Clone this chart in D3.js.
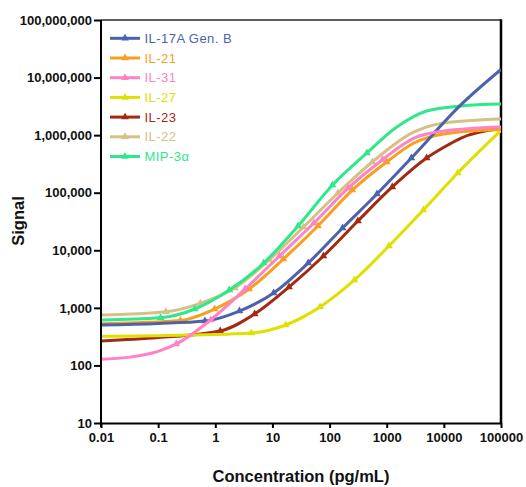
<!DOCTYPE html>
<html>
<head>
<meta charset="utf-8">
<script src="https://cdn.jsdelivr.net/npm/d3@7"></script>
<style>
  html, body { margin: 0; padding: 0; background: #fff; }
  svg { display: block; font-family: "Liberation Sans", Arial, sans-serif; }
</style>
</head>
<body>
<svg id="chart" width="526" height="487"></svg>
<script>
// Standard curves: signal vs. concentration (4-fold serial dilutions), log-log.
const seriesNames  = ["IL-17A Gen. B", "IL-21", "IL-31", "IL-27", "IL-23", "IL-22", "MIP-3α"];
const seriesColors = ["#4b63ad", "#f8a01c", "#ff82c2", "#e0e000", "#a32a12", "#d6c084", "#2fe88a"];

// Measured standards (triangles)
const il17aConc   = [0.659, 2.64, 10.5, 42.2, 169, 675, 2700];
const il17aSignal = [590, 881, 1810, 6000, 24400, 95000, 401000];
const il21Conc    = [0.244, 0.977, 3.91, 15.6, 62.5, 250, 1000];
const il21Signal  = [603, 955, 2120, 7060, 26400, 111000, 342000];
const il31Conc    = [0.208, 0.830, 3.32, 13.3, 53.1, 213, 850];
const il31Signal  = [236, 615, 2120, 7960, 29800, 121000, 378000];
const il27Conc    = [4.27, 17.1, 68.4, 273, 1094, 4375, 17500];
const il27Signal  = [366, 504, 1040, 3050, 11900, 50100, 220000];
const il23Conc    = [1.22, 4.88, 19.5, 78.1, 313, 1250, 5000];
const il23Signal  = [396, 782, 2300, 7960, 32300, 126000, 401000];
const il22Conc    = [0.137, 0.547, 2.19, 8.75, 35, 140, 560];
const il22Signal  = [857, 1200, 2210, 6780, 25400, 98900, 342000];
const mip3aConc   = [0.110, 0.439, 1.76, 7.03, 28.1, 112.5, 450];
const mip3aSignal = [674, 955, 2040, 6000, 26400, 136000, 490000];

// Fitted curve values beyond the standards range
const il17aFitConc   = [0.01, 0.1, 20000, 100000];
const il17aFitSignal = [504, 535, 3380000, 13800000];
const il21FitConc    = [0.01, 3000, 10000, 100000];
const il21FitSignal  = [531, 730000, 1050000, 1250000];
const il31FitConc    = [0.01, 0.03, 0.1, 3000, 10000, 100000];
const il31FitSignal  = [128, 138, 175, 891000, 1180000, 1380000];
const il27FitConc    = [0.01, 0.1, 100000];
const il27FitSignal  = [321, 328, 1210000];
const il23FitConc    = [0.01, 0.1, 10000, 20000, 100000];
const il23FitSignal  = [266, 305, 615000, 891000, 1300000];
const il22FitConc    = [0.01, 3000, 10000, 100000];
const il22FitSignal  = [752, 1135000, 1630000, 1910000];
const mip3aFitConc   = [0.01, 1500, 5000, 20000, 100000];
const mip3aFitSignal = [615, 1380000, 2620000, 3210000, 3470000];

const xTickValues = [0.01, 0.1, 1, 10, 100, 1000, 10000, 100000];
const xTickLabels = ["0.01", "0.1", "1", "10", "100", "1000", "10000", "100000"];
const yTickValues = [10, 100, 1000, 10000, 100000, 1000000, 10000000, 100000000];

const stdConc   = [il17aConc, il21Conc, il31Conc, il27Conc, il23Conc, il22Conc, mip3aConc];
const stdSignal = [il17aSignal, il21Signal, il31Signal, il27Signal, il23Signal, il22Signal, mip3aSignal];
const fitConc   = [il17aFitConc, il21FitConc, il31FitConc, il27FitConc, il23FitConc, il22FitConc, mip3aFitConc];
const fitSignal = [il17aFitSignal, il21FitSignal, il31FitSignal, il27FitSignal, il23FitSignal, il22FitSignal, mip3aFitSignal];

const series = seriesNames.map((name, i) => {
  const std = stdConc[i].map((c, j) => ({ c, s: stdSignal[i][j] }));
  const fit = fitConc[i].map((c, j) => ({ c, s: fitSignal[i][j] }));
  return { name, color: seriesColors[i], std, curve: std.concat(fit).sort((a, b) => a.c - b.c) };
});

const plotLeft = 101, plotRight = 501, plotTop = 20, plotBottom = 423;
const svg = d3.select("#chart");

const x = d3.scaleLog().domain([0.01, 100000]).range([plotLeft, plotRight]);
const y = d3.scaleLog().domain([10, 1e8]).range([plotBottom, plotTop]);

// Frame (top and right edges)
svg.append("line").attr("x1", plotLeft).attr("x2", plotRight).attr("y1", plotTop).attr("y2", plotTop)
  .attr("stroke", "#2a2a2a").attr("stroke-width", 1.5);
svg.append("line").attr("x1", plotRight).attr("x2", plotRight).attr("y1", plotTop - 0.75).attr("y2", plotBottom)
  .attr("stroke", "#000").attr("stroke-width", 2.5);

svg.append("defs").append("clipPath").attr("id", "plot-clip")
  .append("rect").attr("x", plotLeft).attr("y", plotTop)
  .attr("width", plotRight - plotLeft).attr("height", plotBottom - plotTop);

// Curves with their standards; drawing order controls overlap
const drawOrder = [5, 6, 4, 3, 1, 0, 2];
const line = d3.line().x(d => x(d.c)).y(d => y(d.s)).curve(d3.curveMonotoneX);
const tri = d3.symbol().type(d3.symbolTriangle).size(26);

const plot = svg.append("g").attr("clip-path", "url(#plot-clip)");
drawOrder.forEach(i => {
  const s = series[i];
  const g = plot.append("g");
  g.append("path").datum(s.curve).attr("d", line)
    .attr("fill", "none").attr("stroke", s.color).attr("stroke-width", 3)
    .attr("stroke-linejoin", "round");
  g.selectAll("path.pt").data(s.std).join("path").attr("class", "pt")
    .attr("d", tri).attr("fill", s.color)
    .attr("transform", d => `translate(${x(d.c)},${y(d.s)})`);
});

// Axes
const xAxis = svg.append("g").attr("transform", `translate(0,${plotBottom})`)
  .call(d3.axisBottom(x).tickValues(xTickValues).tickFormat((d, i) => xTickLabels[i])
    .tickSize(5).tickSizeOuter(0).tickPadding(5));
const yAxis = svg.append("g").attr("transform", `translate(${plotLeft},0)`)
  .call(d3.axisLeft(y).tickValues(yTickValues).tickFormat(d3.format(","))
    .tickSize(7).tickSizeOuter(0).tickPadding(2));

[xAxis, yAxis].forEach(a => {
  a.select(".domain").attr("stroke", "#000").attr("stroke-width", 2);
  a.selectAll(".tick line").attr("stroke", "#000").attr("stroke-width", 2);
  a.selectAll(".tick text").attr("fill", "#111")
    .style("font-family", "'Liberation Sans', Arial, sans-serif")
    .style("font-size", "13px").style("font-weight", "bold");
});
yAxis.select(".domain").attr("d", `M0,${plotTop}V${plotBottom + 4}`);

// Axis titles
svg.append("text").attr("x", 301).attr("y", 482).attr("text-anchor", "middle")
  .style("font-size", "16.5px").style("font-weight", "bold").attr("fill", "#111")
  .text("Concentration (pg/mL)");
svg.append("text").attr("transform", "translate(24,221) rotate(-90)").attr("text-anchor", "middle")
  .style("font-size", "16.5px").style("font-weight", "bold").attr("fill", "#111")
  .text("Signal");

// Legend
const legend = svg.append("g");
series.forEach((s, i) => {
  const ly = 38.3 + i * 19.7;
  const row = legend.append("g").attr("transform", `translate(0,${ly})`);
  row.append("line").attr("x1", 110).attr("x2", 140).attr("stroke", s.color).attr("stroke-width", 3);
  row.append("path").attr("d", tri).attr("fill", s.color).attr("transform", "translate(125,0)");
  row.append("text").attr("x", 144.5).attr("y", 4.6).attr("fill", s.color)
    .style("font-size", "13px").style("letter-spacing", "0.45px").text(s.name);
});
</script>
</body>
</html>
